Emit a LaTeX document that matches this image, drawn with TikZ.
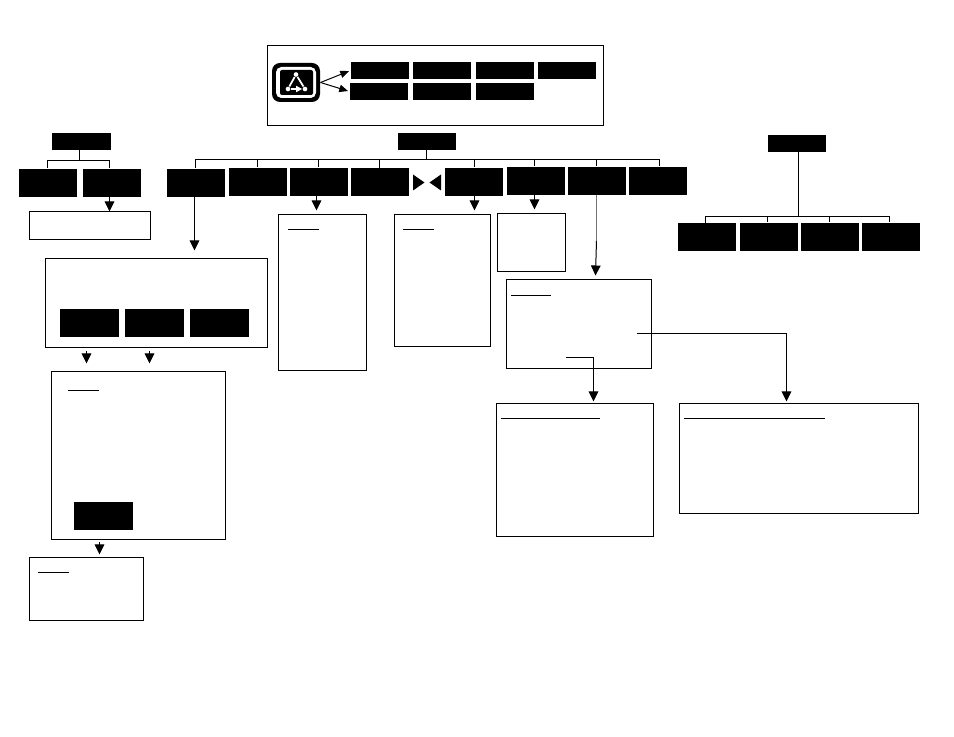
\documentclass[tikz,border=0pt]{standalone}
\usepackage{tikz}
\usetikzlibrary{arrows.meta,calc,positioning}
\tikzset{%
	headbox/.style  = {fill=black, rectangle, inner sep=0pt, minimum width=43.5pt, minimum height=12.75pt}, % Title bar
	blackbox/.style = {fill=black, rectangle, inner sep=0pt, minimum width=43.5pt, minimum height=21pt}, % Item
	panel/.style 2 args = {draw, rectangle, inner sep=0pt, xshift=0.375pt, yshift=-0.375pt, minimum width=#1*0.75pt, minimum height=#2*0.75pt},
	rulebar/.style  = {fill=black, rectangle, inner sep=0pt, yshift=-0.375pt, minimum height=0.75pt, minimum width=#1*0.75pt}, % Underline
	icondot/.style  = {fill=white, circle, inner sep=0pt, minimum size=3.5pt},
	waypoint/.style = {coordinate, xshift=0.375pt, yshift=-0.375pt},
	>={Triangle[width=7.2pt,length=7.5pt]},
	smalltip/.style = {>={Triangle[width=5.5pt,length=6.5pt]}},
}

\begin{document}
\begin{tikzpicture}[x=0.75pt,y=-0.75pt,line width=0.75pt]
	\useasboundingbox (0,0) rectangle (954,737);
	% top legend
	\node[panel={336}{80}] (legend) at (435,85) {};
	\node[fill=black,rectangle,rounded corners=6pt,minimum width=36pt,minimum height=29.25pt,inner sep=0pt] (icon) at (296,82.5) {};
	\node[fill=white,rectangle,rounded corners=4pt,minimum width=30pt,minimum height=23.25pt,inner sep=0pt] (iconring) at (296,82.5) {};
	\node[fill=black,rectangle,rounded corners=1.5pt,minimum width=24.75pt,minimum height=18.75pt,inner sep=0pt] (iconcore) at (296.5,82.5) {};
	\node[icondot] (itop) at (296,74.5) {};
	\node[icondot] (ileft) at (288,89) {};
	\node[icondot] (iright) at (305,89) {};
	\draw[white,line width=1.3pt] (itop) -- (ileft);
	\draw[white,line width=1.3pt] (itop) -- (iright);
	\draw[white,line width=1.3pt,->,>={Triangle[width=4.5pt,length=4.5pt]}] (ileft) -- (iright);
	\node[headbox] (t1) at (380,70.5) {};
	\node[headbox,right of=t1,node distance=46.5pt] (t2) {};
	\node[headbox,right of=t2,node distance=47.25pt] (t3) {};
	\node[headbox,right of=t3,node distance=46.5pt] (t4) {};
	\node[headbox] (t5) at (379,91.5) {};
	\node[headbox,below of=t2,node distance=15.75pt] (t6) {};
	\node[headbox,below of=t3,node distance=15.75pt] (t7) {};
	\draw[->,smalltip,shorten >=1.2pt] (icon.east) -- (t1.west);
	\draw[->,smalltip,shorten >=1.2pt] (icon.east) -- (t5.west);
	% left tree
	\node[headbox,minimum width=44.25pt] (lh) at (81.5,141.5) {};
	\node[blackbox] (l1) at (48,183) {};
	\node[blackbox,right of=l1,node distance=48pt] (l2) {};
	\node[waypoint] (bl0) at (79,160) {};
	\node[waypoint] (bl1) at (47,160) {};
	\node[waypoint] (bl2) at (109,160) {};
	\draw (bl0 |- lh.south) -- (bl0);
	\draw (bl1) -- (bl2);
	\draw (bl1) -- (bl1 |- l1.north);
	\draw (bl2) -- (bl2 |- l2.north);
	\node[panel={121}{28}] (lp) at (89.5,225) {};
	\node[waypoint] (wl) at (109,211) {};
	\draw[->] (wl |- l2.south) -- (wl);
	% middle tree
	\node[headbox] (mh) at (427,141.5) {};
	\node[blackbox] (m1) at (196,183) {};
	\node[blackbox] (m2) at (258,182) {};
	\node[blackbox] (m3) at (319,182) {};
	\node[blackbox] (m4) at (380,182.5) {};
	\node[blackbox] (m5) at (474,182) {};
	\node[blackbox] (m6) at (536,181) {};
	\node[blackbox] (m7) at (597,181) {};
	\node[blackbox] (m8) at (658,181) {};
	\node[waypoint] (bm0) at (426,159) {};
	\node[waypoint] (bm1) at (195,159) {};
	\node[waypoint] (bm2) at (257,159) {};
	\node[waypoint] (bm3) at (318,159) {};
	\node[waypoint] (bm4) at (379,159) {};
	\node[waypoint] (bm5) at (474,159) {};
	\node[waypoint] (bm6) at (534,159) {};
	\node[waypoint] (bm7) at (596,159) {};
	\node[waypoint] (bm8) at (659,159) {};
	\draw (bm0 |- mh.south) -- (bm0);
	\draw (bm1) -- (bm8);
	\draw (bm1) -- (bm1 |- m1.north);
	\draw (bm2) -- (bm2 |- m2.north);
	\draw (bm3) -- (bm3 |- m3.north);
	\draw (bm4) -- (bm4 |- m4.north);
	\draw (bm5) -- (bm5 |- m5.north);
	\draw (bm6) -- (bm6 |- m6.north);
	\draw (bm7) -- (bm7 |- m7.north);
	\draw (bm8) -- (bm8 |- m8.north);
	\fill (413,174.5) -- (424.5,182.5) -- (413,190.5) -- cycle;
	\fill (441,174.5) -- (429.5,182.5) -- (441,190.5) -- cycle;
	% right tree
	\node[headbox] (rh) at (797,143.5) {};
	\node[blackbox] (r1) at (707,237.5) {};
	\node[blackbox] (r2) at (769,237) {};
	\node[blackbox] (r3) at (830,237) {};
	\node[blackbox] (r4) at (891,237) {};
	\node[waypoint] (br0) at (798,216) {};
	\node[waypoint] (br1) at (705,216) {};
	\node[waypoint] (br2) at (767,216) {};
	\node[waypoint] (br3) at (829,216) {};
	\node[waypoint] (br4) at (889,216) {};
	\draw (br0 |- rh.south) -- (br0);
	\draw (br1) -- (br4);
	\draw (br1) -- (br1 |- r1.north);
	\draw (br2) -- (br2 |- r2.north);
	\draw (br3) -- (br3 |- r3.north);
	\draw (br4) -- (br4 |- r4.north);
	% left column
	\node[panel={222}{89}] (ap) at (156,302.5) {};
	\node[blackbox,minimum width=44.25pt] (a1) at (89.5,323) {};
	\node[blackbox,minimum width=44.25pt,right of=a1,node distance=48.75pt] (a2) {};
	\node[blackbox,minimum width=44.25pt,right of=a2,node distance=48.75pt] (a3) {};
	\node[waypoint] (wa) at (194,250) {};
	\draw[->] (wa |- m1.south) -- (wa);
	\node[panel={174}{168}] (bp) at (138,455) {};
	\node[rulebar=31] (bu) at (83.5,390) {};
	\node[blackbox,minimum width=44.25pt] (b1) at (103.5,516.5) {};
	\node[waypoint] (wb1) at (86,363) {};
	\node[waypoint] (wb2) at (149,363) {};
	\draw[->,shorten <=2.25pt] (wb1 |- ap.south) -- (wb1);
	\draw[->,shorten <=2.25pt] (wb2 |- ap.south) -- (wb2);
	\node[panel={114}{63}] (cp) at (86,588.5) {};
	\node[rulebar=31] (cu) at (53.5,572) {};
	\node[waypoint] (wc) at (99,554) {};
	\draw[->,shorten <=1.5pt] (wc |- bp.south) -- (wc);
	% middle column
	\node[panel={88}{156}] (dp) at (322,292) {};
	\node[rulebar=31] (du) at (303.5,229) {};
	\node[waypoint] (wd) at (316,210) {};
	\draw[->] (wd |- m3.south) -- (wd);
	\node[panel={96}{132.5}] (ep) at (442,280.25) {};
	\node[rulebar=31] (eu) at (418.5,229) {};
	\node[waypoint] (we) at (474,210) {};
	\draw[->] (we |- m5.south) -- (we);
	\node[panel={68}{58}] (fp) at (531,242) {};
	\node[waypoint] (wf) at (534,209) {};
	\draw[->] (wf |- m6.south) -- (wf);
	\node[panel={145}{89}] (gp) at (578.5,323.5) {};
	\node[rulebar=40] (gu) at (531,295) {};
	\node[waypoint] (wg1) at (596,240) {};
	\node[waypoint] (wg2) at (595,275) {};
	\draw[black!55] (wg1 |- m7.south) -- (wg1);
	\draw[->] (wg1) -- (wg2);
	% lower right
	\node[panel={157}{133}] (hp) at (574.5,469.5) {};
	\node[rulebar=99] (hu) at (550.5,418) {};
	\node[panel={239}{110}] (ip) at (798.5,458) {};
	\node[rulebar=141] (iu) at (754.5,418) {};
	\node[waypoint] (ws1) at (565.5,357) {};
	\node[waypoint] (wh) at (593,401) {};
	\node[waypoint] (ws2) at (636.5,333) {};
	\node[waypoint] (wi) at (786,401) {};
	\draw[->] (ws1) -| (wh);
	\draw[->] (ws2) -| (wi);
\end{tikzpicture}
\end{document}
